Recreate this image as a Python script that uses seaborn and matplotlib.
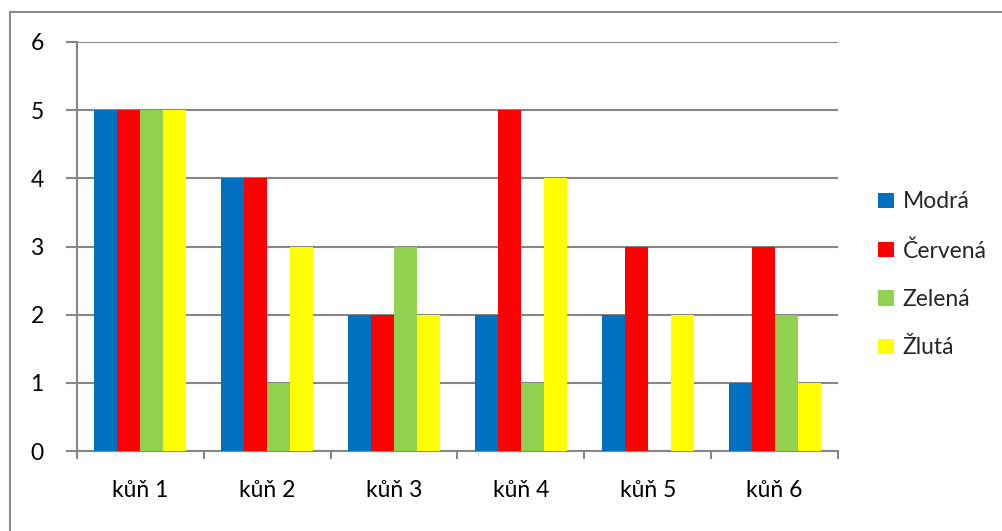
import matplotlib
matplotlib.use("Agg")
import matplotlib.pyplot as plt
import seaborn as sns
import pandas as pd
from matplotlib.patches import Rectangle

categories = ["kůň 1", "kůň 2", "kůň 3", "kůň 4", "kůň 5", "kůň 6"]
series_names = ["Modrá", "Červená", "Zelená", "Žlutá"]
modra = [5, 4, 2, 2, 2, 1]
cervena = [5, 4, 2, 5, 3, 3]
zelena = [5, 1, 3, 1, 0, 2]
zluta = [5, 3, 2, 4, 2, 1]
colors = ["#0070C0", "#FF0000", "#92D050", "#FFFF00"]
yticks = [0, 1, 2, 3, 4, 5, 6]

rows = []
for name, vals in zip(series_names, [modra, cervena, zelena, zluta]):
    for c, v in zip(categories, vals):
        rows.append({"kategorie": c, "série": name, "hodnota": v})
df = pd.DataFrame(rows)

sns.set_theme(style="white")
plt.rcParams["font.family"] = ["Lato", "DejaVu Sans"]

W, H = 1003, 531
fs = 16.5
fig = plt.figure(figsize=(W / 100, H / 100), dpi=100)
ax = fig.add_axes([77 / W, (H - 451) / H, (838 - 77) / W, (451 - 42) / H])

sns.barplot(data=df, x="kategorie", y="hodnota", hue="série", order=categories,
            hue_order=series_names, palette=colors, width=0.725, saturation=1,
            linewidth=0, ax=ax, legend=True, zorder=3)

ax.set_ylim(0, 6)
ax.set_xlim(-0.5, len(categories) - 0.5)
ax.set_yticks(yticks)
ax.set_xlabel("")
ax.set_ylabel("")
grid_c = "#868686"
ax.yaxis.grid(True, color=grid_c, linewidth=1.5, zorder=0)
ax.set_axisbelow(True)
for s in ["top", "right"]:
    ax.spines[s].set_visible(False)
for s in ["left", "bottom"]:
    ax.spines[s].set_color(grid_c)
    ax.spines[s].set_linewidth(1.5)
ax.set_xticks([i - 0.5 for i in range(len(categories) + 1)], minor=True)
ax.tick_params(axis="x", which="major", length=0, pad=21, labelsize=fs, colors="black")
ax.tick_params(axis="x", which="minor", length=6, width=1.5, color=grid_c, direction="out", bottom=True)
ax.tick_params(axis="y", which="major", length=8, width=1.5, color=grid_c, direction="out",
               pad=16, labelsize=fs, labelcolor="black", left=True)

handles, labels = ax.get_legend_handles_labels()
ax.legend(handles, labels, loc="center left", bbox_to_anchor=(878 / W, (H - 275) / H),
          bbox_transform=fig.transFigure, frameon=False, fontsize=fs,
          handlelength=0.68, handleheight=0.68, handletextpad=0.4, labelspacing=1.2,
          borderaxespad=0, borderpad=0)

fig.patches.append(Rectangle((10 / W, -0.1), 1.2, (H - 12) / H + 0.1, transform=fig.transFigure,
                             fill=False, edgecolor="#8c8c8c", linewidth=1.5, zorder=0))

fig.savefig("out.png", dpi=100, facecolor="white")
